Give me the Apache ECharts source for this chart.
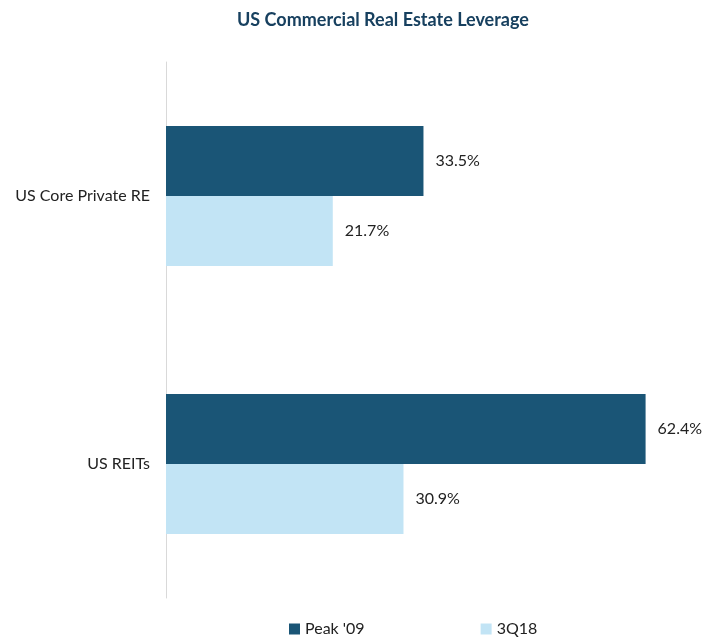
<!DOCTYPE html>
<html>

<head>
    <meta http-equiv="Content-Type" content="text/html; charset=utf-8" />
    <title>US Commercial Real Estate Leverage</title>
    <style type="text/css">
    body,
    html {
        width: 100%;
        height: 100%;
        margin: 0;
        overflow: hidden;
        background-color: #fff;
    }

    #container {
        width: 715px;
        height: 643px;
    }
    </style>
</head>

<body>
    <div id="container"></div>
</body>
<script src="https://cdn.jsdelivr.net/npm/echarts@6/dist/echarts.min.js"></script>
<script>
var categories = ['US Core Private RE', 'US REITs'];
var peak09 = [33.5, 62.4];
var q318 = [21.7, 30.9];

var chartDom = document.getElementById('container');
var myChart = echarts.init(chartDom);

var labelStyle = {
    show: true,
    position: 'right',
    distance: 12,
    color: '#222',
    fontSize: 16,
    fontFamily: 'Lato',
    formatter: function(p) {
        return p.value.toFixed(1) + '%';
    }
};

var option = {
    textStyle: { fontFamily: 'Lato' },
    title: {
        text: 'US Commercial Real Estate Leverage',
        left: 232,
        top: 6,
        textStyle: {
            color: '#17405f',
            fontSize: 18,
            fontWeight: 'bold',
            fontFamily: 'Lato'
        }
    },
    legend: {
        bottom: 1,
        left: 284,
        itemGap: 116,
        itemWidth: 11,
        itemHeight: 11,
        icon: 'rect',
        textStyle: { fontSize: 16, color: '#222', fontFamily: 'Lato' },
        data: ["Peak '09", '3Q18']
    },
    grid: {
        left: 166,
        right: 11,
        top: 62,
        bottom: 45
    },
    xAxis: {
        type: 'value',
        min: 0,
        max: 70,
        show: false
    },
    yAxis: {
        type: 'category',
        inverse: true,
        data: categories,
        axisLine: { lineStyle: { color: '#d9d9d9' } },
        axisTick: { show: false },
        axisLabel: { color: '#222', fontSize: 16, margin: 16, fontFamily: 'Lato' }
    },
    series: [{
        name: "Peak '09",
        type: 'bar',
        data: peak09,
        barWidth: 70,
        barGap: '0%',
        itemStyle: { color: '#1a5576' },
        label: labelStyle
    }, {
        name: '3Q18',
        type: 'bar',
        data: q318,
        barWidth: 70,
        itemStyle: { color: '#c2e4f5' },
        label: labelStyle
    }]
};

myChart.setOption(option);
</script>

</html>
